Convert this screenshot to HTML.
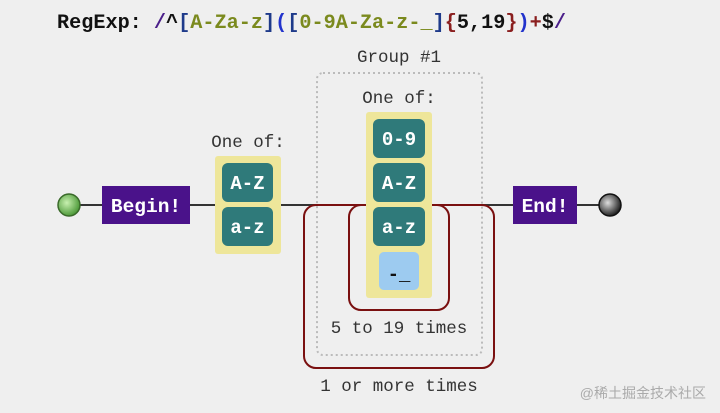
<!DOCTYPE html>
<html><head><meta charset="utf-8"><style>
html,body{margin:0;padding:0;background:#efefef;width:720px;height:413px;overflow:hidden}
</style></head><body>
<svg width="720" height="413" xmlns="http://www.w3.org/2000/svg" font-family="Liberation Mono, monospace">
<defs>
<radialGradient id="g1" cx="40%" cy="40%" r="60%"><stop offset="0" stop-color="#c8f0b0"/><stop offset="1" stop-color="#4e9a3a"/></radialGradient>
<radialGradient id="g2" cx="40%" cy="40%" r="60%"><stop offset="0" stop-color="#ddd"/><stop offset="1" stop-color="#222"/></radialGradient>
</defs>
<text x="57" y="28" font-size="20.2" font-weight="bold" fill="#111">RegExp: <tspan fill="#4b1f8a">/</tspan><tspan fill="#111">^</tspan><tspan fill="#1e3a8a">[</tspan><tspan fill="#7b8a1e">A-Za-z</tspan><tspan fill="#1e3a8a">]</tspan><tspan fill="#2233cc">(</tspan><tspan fill="#1e3a8a">[</tspan><tspan fill="#7b8a1e">0-9A-Za-z-_</tspan><tspan fill="#1e3a8a">]</tspan><tspan fill="#8a1e1e">{</tspan><tspan fill="#111">5,19</tspan><tspan fill="#8a1e1e">}</tspan><tspan fill="#2233cc">)</tspan><tspan fill="#8a1e1e">+</tspan><tspan fill="#111">$</tspan><tspan fill="#4b1f8a">/</tspan></text>
<line x1="69" y1="205" x2="610" y2="205" stroke="#333" stroke-width="2"/>
<rect x="304" y="205" width="190" height="163" rx="12" fill="none" stroke="#7a1010" stroke-width="2"/>
<rect x="317" y="73" width="165" height="282" rx="6" fill="none" stroke="#bbb" stroke-width="2" stroke-dasharray="2,3"/>
<rect x="349" y="205" width="100" height="105" rx="12" fill="none" stroke="#7a1010" stroke-width="2"/>
<circle cx="69" cy="205" r="11" fill="url(#g1)" stroke="#3a6a2a" stroke-width="1.5"/>
<circle cx="610" cy="205" r="11" fill="url(#g2)" stroke="#111" stroke-width="1.5"/>
<rect x="102" y="186" width="88" height="38" fill="#4a128a"/>
<text x="146" y="212" font-size="19.5" font-weight="bold" fill="#fff" text-anchor="middle">Begin!</text>
<rect x="513" y="186" width="64" height="38" fill="#4a128a"/>
<text x="545" y="212" font-size="19.5" font-weight="bold" fill="#fff" text-anchor="middle">End!</text>
<text x="248" y="147" font-size="17.5" fill="#333" text-anchor="middle">One of:</text>
<rect x="215" y="156" width="66" height="98" rx="3" fill="#eee69a"/>
<rect x="222" y="163" width="51" height="39" rx="6" fill="#2f7a7a"/>
<rect x="222" y="207" width="51" height="39" rx="6" fill="#2f7a7a"/>
<text x="247.5" y="189" font-size="19" font-weight="bold" fill="#fff" text-anchor="middle">A-Z</text>
<text x="247.5" y="233" font-size="19" font-weight="bold" fill="#fff" text-anchor="middle">a-z</text>
<text x="399" y="62" font-size="17.5" fill="#333" text-anchor="middle">Group #1</text>
<text x="399" y="103" font-size="17.5" fill="#333" text-anchor="middle">One of:</text>
<rect x="366" y="112" width="66" height="186" rx="3" fill="#eee69a"/>
<rect x="373" y="119" width="52" height="39" rx="6" fill="#2f7a7a"/>
<rect x="373" y="163" width="52" height="39" rx="6" fill="#2f7a7a"/>
<rect x="373" y="207" width="52" height="39" rx="6" fill="#2f7a7a"/>
<rect x="379" y="252" width="40" height="38" rx="5" fill="#9dcbf0"/>
<text x="399" y="145" font-size="19" font-weight="bold" fill="#fff" text-anchor="middle">0-9</text>
<text x="399" y="189" font-size="19" font-weight="bold" fill="#fff" text-anchor="middle">A-Z</text>
<text x="399" y="233" font-size="19" font-weight="bold" fill="#fff" text-anchor="middle">a-z</text>
<text x="399" y="280" font-size="19" font-weight="bold" fill="#111" text-anchor="middle">-_</text>
<text x="399" y="333" font-size="17.5" fill="#333" text-anchor="middle">5 to 19 times</text>
<text x="399" y="391" font-size="17.5" fill="#333" text-anchor="middle">1 or more times</text>
<text x="706" y="398" font-size="14" fill="#aaa" text-anchor="end" font-family="Liberation Sans, Noto Sans CJK SC, sans-serif">@稀土掘金技术社区</text>
</svg>
</body></html>
